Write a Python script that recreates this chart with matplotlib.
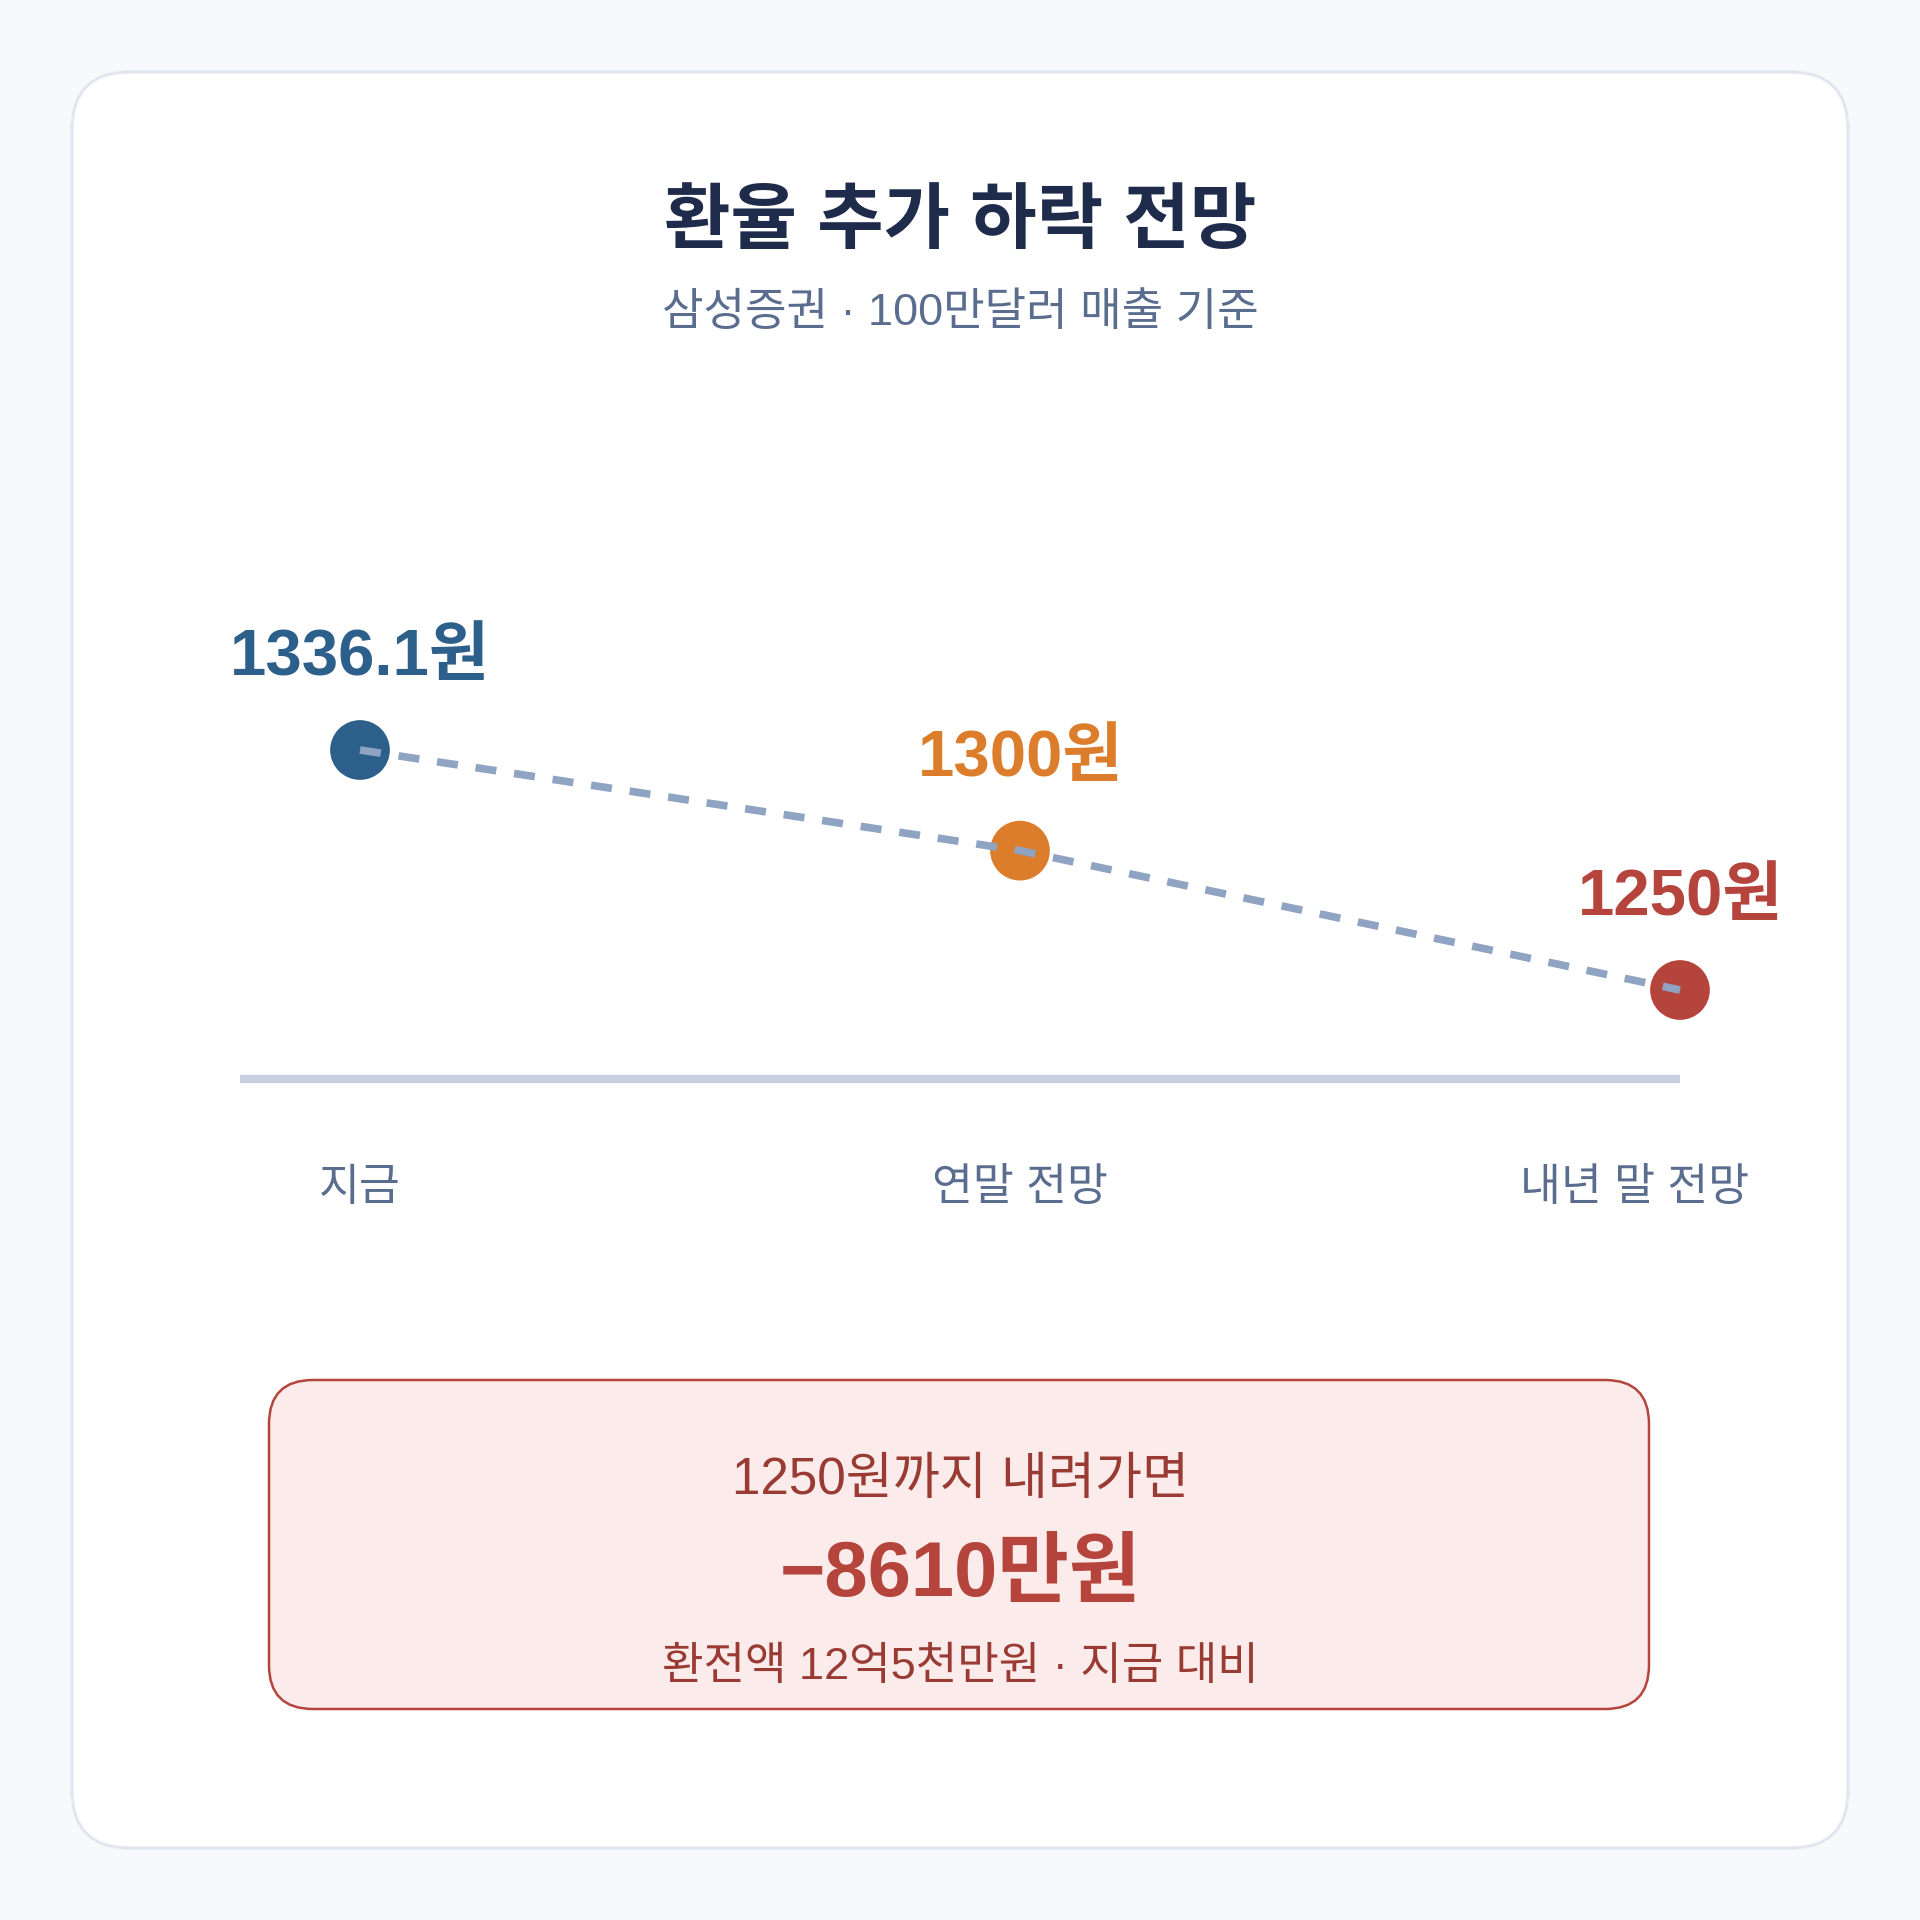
'''Exchange rate outlook chart: 환율 추가 하락 전망'''

import matplotlib.pyplot as plt
from matplotlib.patches import FancyBboxPatch
from matplotlib.lines import Line2D

plt.rcParams['font.family'] = ['Liberation Sans', 'Noto Sans CJK KR', 'DejaVu Sans']

# data
categories = ['지금', '연말 전망', '내년 말 전망']
rates = [1336.1, 1300, 1250]
rate_labels = ['1336.1원', '1300원', '1250원']
point_colors = ['#2c5f8a', '#dc7d2b', '#b5453c']

title = '환율 추가 하락 전망'
subtitle = '삼성증권 · 100만달러 매출 기준'
box_lines = ['1250원까지 내려가면', '−8610만원', '환전액 12억5천만원 · 지금 대비']

W = H = 1920
fig = plt.figure(figsize=(19.2, 19.2), dpi=100)
fig.patch.set_facecolor('#f7f9fc')

# background axes in pixel coordinates (y down)
bg = fig.add_axes([0, 0, 1, 1])
bg.set_xlim(0, W)
bg.set_ylim(H, 0)
bg.axis('off')

card = FancyBboxPatch((72, 72), 1776, 1776, boxstyle='round,pad=0,rounding_size=58',
                      fc='white', ec='#e2e7ef', lw=2.2)
bg.add_patch(card)

bg.text(960, 224, title, ha='center', va='center', fontsize=52, fontweight='bold',
        color='#1e2b4b')
bg.text(960, 313, subtitle, ha='center', va='center', fontsize=32.5, color='#5b6d8e')

# baseline
bg.add_line(Line2D([240, 1680], [1079, 1079], color='#c7d0e0', lw=6, solid_capstyle='butt'))

# summary box
box = FancyBboxPatch((269, 1380), 1380, 329, boxstyle='round,pad=0,rounding_size=44',
                     fc='#fbeceb', ec='#b5453c', lw=1.8)
bg.add_patch(box)
bg.text(960, 1481, box_lines[0], ha='center', va='center', fontsize=36.8, color='#993a33')
bg.text(960, 1575, box_lines[1], ha='center', va='center', fontsize=56, fontweight='bold',
        color='#b5453c')
bg.text(960, 1667, box_lines[2], ha='center', va='center', fontsize=32.5, color='#993a33')

# data axes: x categories at 360 / 1020 / 1680 px, y between 600 and 1100 px
ax_left, ax_right, ax_top, ax_bottom = 200, 1840, 600, 1100
ax = fig.add_axes([ax_left / W, 1 - ax_bottom / H, (ax_right - ax_left) / W,
                   (ax_bottom - ax_top) / H])
ax.patch.set_alpha(0)
ax.axis('off')

step = 660.0
ax.set_xlim(-(360 - ax_left) / step, 2 + (ax_right - 1680) / step)
# first value at 750 px, last at 990 px
ppu = (990 - 750) / (rates[0] - rates[-1])
ax.set_ylim(rates[-1] - (ax_bottom - 990) / ppu, rates[0] + (750 - ax_top) / ppu)

xs = list(range(len(categories)))
ax.scatter(xs, rates, s=43 ** 2, c=point_colors, zorder=3, linewidths=0, clip_on=False)
ax.plot(xs, rates, color='#8fa3c2', lw=5.5, ls=(0, (2.75, 2.35)), dash_capstyle='butt',
        zorder=4, clip_on=False)

for x, r, lab, c in zip(xs, rates, rate_labels, point_colors):
    ax.annotate(lab, xy=(x, r), xytext=(0, 75), textcoords='offset pixels',
                ha='center', va='baseline', fontsize=47, fontweight='bold', color=c)

cat_dx = [0, 0, -45]
for x, cat, dx in zip(xs, categories, cat_dx):
    ax.annotate(cat, xy=(x, 0), xycoords=('data', 'axes fraction'), xytext=(dx, -88),
                textcoords='offset pixels', ha='center', va='center', fontsize=32,
                color='#5b6d8e')

fig.savefig('out.png', dpi=100, facecolor=fig.get_facecolor())
